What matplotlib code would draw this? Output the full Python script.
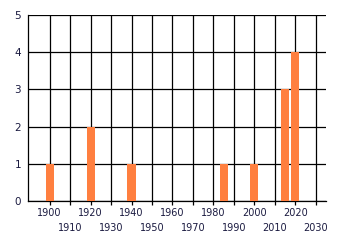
import matplotlib
matplotlib.use("Agg")
import matplotlib.pyplot as plt
import numpy as np

years = [1900, 1920, 1940, 1985, 2000, 2015, 2020]
counts = [1, 2, 1, 1, 1, 3, 4]
major_ticks = [1900, 1920, 1940, 1960, 1980, 2000, 2020]
minor_ticks = [1910, 1930, 1950, 1970, 1990, 2010, 2030]
y_ticks = [0, 1, 2, 3, 4, 5]

plt.rcParams['font.family'] = ['DejaVu Sans']
fig = plt.figure(figsize=(3.4, 2.45), dpi=100)
ax = fig.add_axes([28/340, 1 - 201/245, (325.7 - 28)/340, (201 - 15)/245])

ax.bar(years, counts, width=4, color='#ff7f3f', zorder=3)

ax.set_xlim(1889.4, 2034.9)
ax.set_ylim(0, 5)
ax.set_xticks(major_ticks)
ax.set_xticks(minor_ticks, minor=True)
ax.set_xticklabels([str(t) for t in major_ticks])
ax.set_xticklabels([str(t) for t in minor_ticks], minor=True)
ax.set_yticks(y_ticks)

ax.grid(True, which='both', axis='x', color='black', linewidth=0.9, zorder=1)
ax.grid(True, which='major', axis='y', color='black', linewidth=0.9, zorder=1)

ax.tick_params(axis='x', which='major', length=3, width=0.9, pad=2, labelsize=7, colors='black', labelcolor='#1a1a40')
ax.tick_params(axis='x', which='minor', length=3, width=0.9, pad=13, labelsize=7, colors='black', labelcolor='#1a1a40')
ax.tick_params(axis='y', length=0, pad=5, labelsize=7.5, labelcolor='#1a1a40')

for s in ['top', 'right']:
    ax.spines[s].set_visible(False)
for s in ['left', 'bottom']:
    ax.spines[s].set_color('black')
    ax.spines[s].set_linewidth(0.9)

fig.savefig('out.png', dpi=100)
